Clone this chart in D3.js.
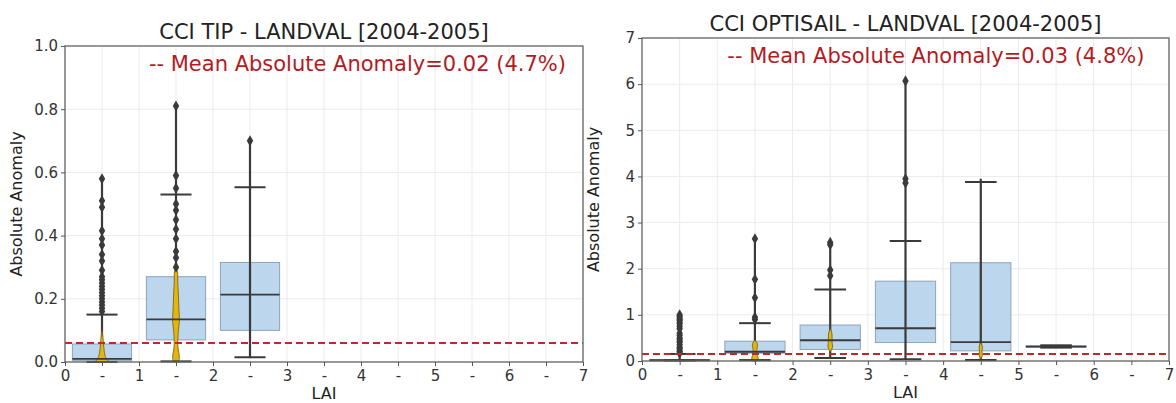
<!DOCTYPE html>
<meta charset="utf-8">
<html>
<head><title>CCI LANDVAL anomalies</title>
<script src="https://cdn.jsdelivr.net/npm/d3@7"></script>
<style>
    body { margin: 0; background: #fff; }
    text { font-family: "DejaVu Sans", sans-serif; }
    .grid line { stroke: #ebebeb; stroke-width: 1; }
    .axis path, .axis line { stroke: #555; }
    .axis text { fill: #333; font-size: 15px; }
</style>
</head>
<body>
<script>
// x tick labels (every 0.5 LAI)
var xTickVals = [0, 0.5, 1, 1.5, 2, 2.5, 3, 3.5, 4, 4.5, 5, 5.5, 6, 6.5, 7];
var xTickLabels = ["0", "-", "1", "-", "2", "-", "3", "-", "4", "-", "5", "-", "6", "-", "7"];

// ---- left panel: CCI TIP ----
var tipCenters = [0.5, 1.5, 2.5];
var tipQ1 = [0.004, 0.07, 0.10];
var tipMedian = [0.01, 0.135, 0.213];
var tipQ3 = [0.057, 0.27, 0.315];
var tipWhiskLo = [0.0, 0.002, 0.015];
var tipWhiskHi = [0.15, 0.53, 0.553];
var tipMax = [0.58, 0.81, 0.70];
var tipOutliers = [
    [0.58, 0.51, 0.49, 0.415, 0.39, 0.37, 0.34, 0.32, 0.29, 0.27, 0.26, 0.25, 0.24, 0.23, 0.22, 0.21, 0.2, 0.19, 0.18, 0.17, 0.16],
    [0.81, 0.59, 0.55, 0.5, 0.48, 0.45, 0.42, 0.39, 0.35, 0.33, 0.3],
    [0.70]
];
// violin profiles: [value, half width in LAI units]
var tipViolins = [
    [[0, 0.06], [0.004, 0.09], [0.012, 0.05], [0.03, 0.03], [0.06, 0.02], [0.09, 0.008], [0.1, 0]],
    [[0, 0.03], [0.01, 0.05], [0.03, 0.04], [0.05, 0.02], [0.1, 0.03], [0.13, 0.05], [0.16, 0.04], [0.2, 0.035], [0.23, 0.03], [0.26, 0.02], [0.28, 0.03], [0.3, 0]],
    []
];
var tipMean = 0.06;

// ---- right panel: CCI OPTISAIL ----
var optCenters = [0.5, 1.5, 2.5, 3.5, 4.5, 5.5];
var optQ1 = [0.0, 0.17, 0.25, 0.40, 0.22, 0.30];
var optMedian = [0.02, 0.2, 0.45, 0.71, 0.41, 0.31];
var optQ3 = [0.03, 0.43, 0.78, 1.73, 2.13, 0.33];
var optWhiskLo = [0.01, 0.02, 0.065, 0.04, 0.02, 0.29];
var optWhiskHi = [0.15, 0.82, 1.55, 2.6, 3.88, 0.34];
var optMax = [1.0, 2.65, 2.57, 6.07, 3.95, 0.34];
var optOutliers = [
    [1.0, 0.97, 0.93, 0.9, 0.87, 0.83, 0.8, 0.75, 0.7, 0.6, 0.55, 0.5, 0.47, 0.43, 0.4, 0.35, 0.3, 0.27, 0.23, 0.2, 0.17],
    [2.65, 1.77, 1.37, 0.95, 0.9],
    [2.57, 2.52, 1.97, 1.85],
    [6.07, 3.95, 3.86],
    [],
    []
];
var optViolins = [
    [],
    [[0, 0.03], [0.05, 0.05], [0.12, 0.03], [0.2, 0.02], [0.3, 0.03], [0.38, 0.04], [0.45, 0]],
    [[0.2, 0], [0.3, 0.04], [0.4, 0.02], [0.6, 0.03], [0.7, 0]],
    [],
    [[0.05, 0], [0.12, 0.03], [0.2, 0.01], [0.3, 0.03], [0.4, 0]],
    []
];
var optMean = 0.15;

var W = 1176, H = 403;
var svg = d3.select("body").append("svg").attr("width", W).attr("height", H);

function drawPanel(p) {
    var x = d3.scaleLinear().domain([0, 7]).range([p.left, p.right]);
    var y = d3.scaleLinear().domain([0, p.ymax]).range([p.bottom, p.top]);
    var g = svg.append("g");

    // grid
    var grid = g.append("g").attr("class", "grid");
    grid.selectAll("line.v").data(xTickVals).enter().append("line")
        .attr("x1", d => x(d)).attr("x2", d => x(d)).attr("y1", p.top).attr("y2", p.bottom);
    grid.selectAll("line.h").data(p.yTicks).enter().append("line")
        .attr("x1", p.left).attr("x2", p.right).attr("y1", d => y(d)).attr("y2", d => y(d));

    var n = p.centers.length;
    var idx = d3.range(n);
    var boxW = 0.8, capW = 0.42;

    // boxes
    g.selectAll("rect.box").data(idx).enter().append("rect")
        .attr("x", i => x(p.centers[i] - boxW / 2))
        .attr("width", x(boxW) - x(0))
        .attr("y", i => y(p.q3[i]))
        .attr("height", i => Math.max(1, y(p.q1[i]) - y(p.q3[i])))
        .attr("fill", "#bcd6ee")
        .attr("stroke", "#8ea4b8")
        .attr("stroke-width", 1);

    // vertical range lines
    g.selectAll("line.range").data(idx).enter().append("line")
        .attr("x1", i => x(p.centers[i])).attr("x2", i => x(p.centers[i]))
        .attr("y1", i => y(Math.min(p.whiskLo[i], p.q1[i])))
        .attr("y2", i => y(p.max[i]))
        .attr("stroke", "#3a3a3a").attr("stroke-width", 2.2);

    // violins
    var area = d3.area().curve(d3.curveBasis)
        .y(d => y(d[0]));
    idx.forEach(function(i) {
        var v = p.violins[i];
        if (!v.length) return;
        var c = p.centers[i];
        g.append("path").datum(v)
            .attr("d", area.x0(d => x(c - d[1])).x1(d => x(c + d[1])))
            .attr("fill", "#e2b60c")
            .attr("stroke", "#6e5a10")
            .attr("stroke-width", 0.8);
    });

    // outlier markers
    var diamond = d3.symbol().type(d3.symbolDiamond).size(36);
    idx.forEach(function(i) {
        g.selectAll(null).data(p.outliers[i]).enter().append("path")
            .attr("d", diamond)
            .attr("transform", d => "translate(" + x(p.centers[i]) + "," + y(d) + ")")
            .attr("fill", "#3a3a3a");
    });

    // whisker caps
    [p.whiskLo, p.whiskHi].forEach(function(arr) {
        g.selectAll(null).data(idx).enter().append("line")
            .attr("x1", i => x(p.centers[i] - capW / 2)).attr("x2", i => x(p.centers[i] + capW / 2))
            .attr("y1", i => y(arr[i])).attr("y2", i => y(arr[i]))
            .attr("stroke", "#3a3a3a").attr("stroke-width", 2);
    });

    // medians
    g.selectAll("line.med").data(idx).enter().append("line")
        .attr("x1", i => x(p.centers[i] - boxW / 2)).attr("x2", i => x(p.centers[i] + boxW / 2))
        .attr("y1", i => y(p.median[i])).attr("y2", i => y(p.median[i]))
        .attr("stroke", "#3a3a3a").attr("stroke-width", 1.8);

    // mean anomaly line
    g.append("line")
        .attr("x1", p.left).attr("x2", p.right)
        .attr("y1", y(p.mean)).attr("y2", y(p.mean))
        .attr("stroke", "#c0282d").attr("stroke-width", 2)
        .attr("stroke-dasharray", "7,4");

    // frame
    g.append("rect")
        .attr("x", p.left).attr("y", p.top)
        .attr("width", p.right - p.left).attr("height", p.bottom - p.top)
        .attr("fill", "none").attr("stroke", "#666").attr("stroke-width", 1.3);

    // axes
    g.append("g").attr("class", "axis")
        .attr("transform", "translate(0," + p.bottom + ")")
        .call(d3.axisBottom(x).tickValues(xTickVals).tickSize(4).tickPadding(4)
            .tickFormat((d, i) => xTickLabels[i]))
        .call(s => s.select(".domain").remove());
    g.append("g").attr("class", "axis")
        .attr("transform", "translate(" + p.left + ",0)")
        .call(d3.axisLeft(y).tickValues(p.yTicks).tickSize(4).tickPadding(3)
            .tickFormat(p.yFormat))
        .call(s => s.select(".domain").remove());

    var cx = (p.left + p.right) / 2;
    // title
    g.append("text").attr("x", cx).attr("y", p.top - 7)
        .attr("text-anchor", "middle").attr("font-size", 21).attr("fill", "#222")
        .text(p.title);
    // mean text
    g.append("text").attr("x", p.left + 0.162 * (p.right - p.left)).attr("y", p.top + 25)
        .attr("font-size", 21).attr("fill", "#b31b1f")
        .text("-- Mean Absolute Anomaly=" + p.meanText);
    // axis labels
    g.append("text").attr("x", cx).attr("y", p.bottom + 37)
        .attr("text-anchor", "middle").attr("font-size", 16).attr("fill", "#222")
        .text("LAI");
    g.append("text")
        .attr("transform", "translate(" + (p.left - 43) + "," + ((p.top + p.bottom) / 2) + ") rotate(-90)")
        .attr("text-anchor", "middle").attr("font-size", 16).attr("fill", "#222")
        .text("Absolute Anomaly");
}

drawPanel({
    left: 65, right: 583, top: 46, bottom: 362, ymax: 1.0,
    yTicks: [0, 0.2, 0.4, 0.6, 0.8, 1.0], yFormat: d3.format(".1f"),
    title: "CCI TIP - LANDVAL [2004-2005]", meanText: "0.02 (4.7%)",
    centers: tipCenters, q1: tipQ1, median: tipMedian, q3: tipQ3,
    whiskLo: tipWhiskLo, whiskHi: tipWhiskHi, max: tipMax,
    outliers: tipOutliers, violins: tipViolins, mean: tipMean
});

drawPanel({
    left: 642, right: 1169, top: 38, bottom: 361, ymax: 7,
    yTicks: [0, 1, 2, 3, 4, 5, 6, 7], yFormat: d3.format("d"),
    title: "CCI OPTISAIL - LANDVAL [2004-2005]", meanText: "0.03 (4.8%)",
    centers: optCenters, q1: optQ1, median: optMedian, q3: optQ3,
    whiskLo: optWhiskLo, whiskHi: optWhiskHi, max: optMax,
    outliers: optOutliers, violins: optViolins, mean: optMean
});
</script>
</body>
</html>
